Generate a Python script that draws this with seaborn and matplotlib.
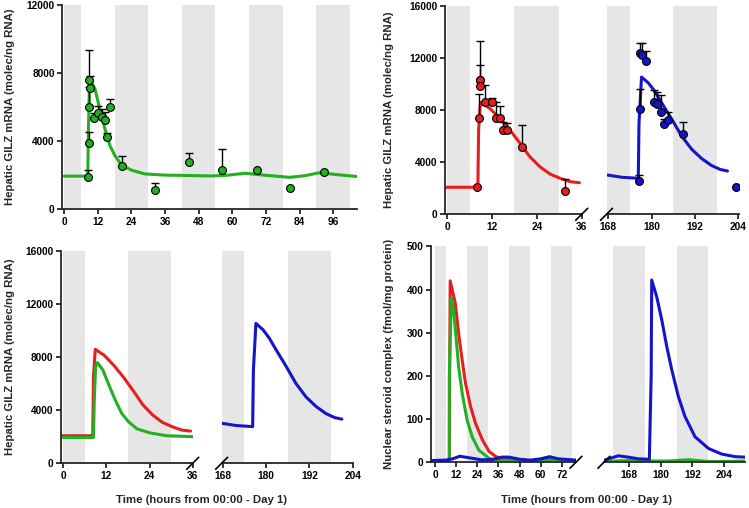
import numpy as np
import pandas as pd
import matplotlib
matplotlib.use("Agg")
import matplotlib.pyplot as plt
import seaborn as sns

# ---- model curves (hours, value) ----
green_t = [0, 8.4, 8.6, 9.0, 9.5, 11, 12.7, 14.5, 16.3, 18.1, 20.5, 24, 28.8, 36,
           44, 52, 58, 64.5, 72, 80.5, 86, 91, 98, 104.6]
green_v = [1950, 1950, 4500, 7300, 7600, 7050, 5900, 4750, 3750, 3150, 2600, 2300, 2080, 2010,
           1990, 1960, 2000, 2120, 2000, 1880, 1980, 2150, 2030, 1930]

red_t = [-0.5, 8.2, 8.4, 8.9, 11.4, 14.1, 16.8, 19.5, 22.1, 24.8, 27.5, 30.2, 32.9, 35.4]
red_v = [2080, 2080, 6500, 8600, 8150, 7380, 6480, 5460, 4430, 3660, 3100, 2770, 2510, 2430]

blue_t = [167.8, 171.7, 176.3, 176.5, 177.2, 179.1, 180.9, 182.8, 185.5, 188.3, 191.1,
          193.8, 196.6, 199, 201]
blue_v = [3020, 2850, 2770, 7000, 10560, 10100, 9450, 8560, 7350, 6020, 5000,
          4300, 3750, 3450, 3330]

# ---- measured GILZ mRNA (time, mean, top of error bar) ----
green_pt_t = [8.57, 8.8, 8.85, 9.0, 9.1, 10.5, 12.2, 13.4, 14.5, 15.3, 16.4, 20.5, 32.4, 44.5, 56.5, 68.7, 80.7, 92.8]
green_pt_m = [1920, 3880, 6000, 7600, 7150, 5370, 5680, 5410, 5250, 4235, 6000, 2570, 1135, 2780, 2290, 2330, 1270, 2210]
green_pt_up = [2300, 4560, 7200, 9400, 7860, 5650, 6050, 5900, 5700, 4470, 6470, 3130, 1560, 3330, 3530, 2330, 1270, 2210]

red_pt_t = [8.1, 8.5, 8.7, 8.9, 8.8, 10.1, 12.05, 13.0, 14.1, 15.0, 15.9, 19.9, 31.6]
red_pt_m = [2080, 7430, 10350, 10300, 9890, 8660, 8610, 7380, 7380, 6450, 6450, 5150, 1770]
red_pt_up = [2080, 9250, 13350, 11480, 9890, 9940, 8920, 8660, 8330, 7120, 7050, 6870, 2740]

blue_pt_t = [176.6, 176.7, 176.9, 177.2, 178.5, 180.6, 181.6, 182.5, 183.4, 184.5, 188.6, 203.4]
blue_pt_m = [2560, 8100, 12380, 12250, 11790, 8610, 8460, 7900, 6950, 7280, 6180, 2100]
blue_pt_up = [3000, 9610, 13150, 13150, 12580, 9600, 9400, 9200, 7350, 7900, 7120, 2100]

# ---- nuclear steroid complex ----
nsc_red_t = [-2, 8.2, 8.3, 8.6, 11.5, 13.4, 15.4, 17.3, 20.2, 23, 26.9, 30.7, 34.6, 40.3, 48, 60, 72, 80]
nsc_red_v = [3, 3, 200, 420, 368, 298, 237, 183, 129, 90, 52, 25, 13, 7, 4, 3, 3, 3]
nsc_green_t = [-2, 8.0, 8.1, 9.2, 10.5, 11.9, 13.4, 15.4, 18.2, 21.1, 24.9, 30.7, 36, 42, 46, 52, 58, 65, 72, 80]
nsc_green_v = [2, 2, 200, 380, 352, 291, 221, 160, 98, 59, 28, 9, 4, 5, 7, 4, 3, 7, 4, 2]
nsc_blue_t = [-2, 6, 10, 14, 20, 26, 32, 38, 42, 48, 54, 60, 65, 70, 80]
nsc_blue_v = [4, 5, 8, 14, 10, 6, 6, 12, 12, 7, 5, 8, 13, 8, 5]
nsc_blue2_t = [158.7, 163.9, 167.7, 171.5, 175.7, 176.4, 176.6, 178.5, 180.4, 182.3, 184.2, 186.7,
               189.2, 193, 198.1, 203.1, 208.2, 212]
nsc_blue2_v = [5, 15, 12, 8, 7, 200, 422, 383, 330, 268, 214, 152, 106, 59, 32, 19, 13, 12]
nsc_green2_t = [158.7, 167.7, 176, 183, 190.5, 198, 205, 212]
nsc_green2_v = [2, 4, 3, 3, 6, 2, 2, 3]

# dark periods (18:00 - 06:00), first one starts at the origin
dark = [(0, 6), (18, 30), (42, 54), (66, 78), (90, 102), (162, 174), (186, 198)]

GREEN = "#22B022"
RED = "#E81E1E"
BLUE = "#1414C8"
GREY = "#E6E6E6"

sns.set_theme(style="ticks")
plt.rcParams["font.family"] = ["Liberation Sans", "DejaVu Sans"]
plt.rcParams["font.weight"] = "bold"
plt.rcParams["axes.labelweight"] = "bold"

W, H = 749, 508
fig = plt.figure(figsize=(W / 100, H / 100), dpi=100)


def mk(l, r, t, b, xlim, ylim, xticks, yticks, left=True):
    ax = fig.add_axes([l / W, 1 - b / H, (r - l) / W, (b - t) / H])
    for a, c in dark:
        ax.axvspan(a, c, color=GREY, lw=0, zorder=0)
    ax.set_xlim(*xlim)
    ax.set_ylim(*ylim)
    ax.set_xticks(xticks)
    ax.set_xticklabels([str(x) for x in xticks], fontsize=7.3, fontweight="bold")
    ax.spines["top"].set_visible(False)
    ax.spines["right"].set_visible(False)
    ax.spines["bottom"].set_linewidth(1.3)
    ax.spines["left"].set_linewidth(1.3)
    ax.tick_params(direction="out", length=3.5, width=1.1, pad=2, colors="black")
    if left:
        ax.set_yticks(yticks)
        ax.set_yticklabels([str(y) for y in yticks], fontsize=7.3, fontweight="bold")
    else:
        ax.spines["left"].set_visible(False)
        ax.set_yticks([])
    ax.set_facecolor("white")
    return ax


def brk(ax, side):
    bb = ax.get_position()
    dx = 6 / (bb.width * W)
    dy = 6 / (bb.height * H)
    x0 = 1 if side == "r" else 0
    ax.plot([x0 - dx, x0 + dx], [-dy, dy], transform=ax.transAxes, color="black",
            lw=1.2, clip_on=False, zorder=5)


def curve(ax, t, v, color):
    sns.lineplot(x=t, y=v, ax=ax, color=color, lw=2.2, sort=False, estimator=None, zorder=2)


def points(ax, t, m, up, color):
    lo = np.zeros(len(m))
    hi = np.array(up) - np.array(m)
    ax.errorbar(t, m, yerr=[lo, hi], fmt="none", ecolor="black", elinewidth=1.0,
                capsize=3, capthick=1.0, zorder=3)
    sns.scatterplot(x=t, y=m, ax=ax, color=color, edgecolor="black", s=32,
                    linewidth=0.8, zorder=4)


gt = [0, 4000, 8000, 12000, 16000]

# top-left
ax1 = mk(62.3, 357.2, 5.3, 209.3, (-0.7, 104.6), (0, 12000), list(range(0, 97, 12)), [0, 4000, 8000, 12000])
curve(ax1, green_t, green_v, GREEN)
points(ax1, green_pt_t, green_pt_m, green_pt_up, GREEN)

# top-right
ax2 = mk(445, 581.7, 6.3, 214.3, (-0.6, 36), (0, 16000), [0, 12, 24, 36], gt)
curve(ax2, red_t, red_v, RED)
points(ax2, red_pt_t, red_pt_m, red_pt_up, RED)
brk(ax2, "r")
ax3 = mk(606.5, 739.4, 6.3, 214.3, (167.5, 204.3), (0, 16000), [168, 180, 192, 204], gt, left=False)
curve(ax3, blue_t, blue_v, BLUE)
points(ax3, blue_pt_t, blue_pt_m, blue_pt_up, BLUE)
brk(ax3, "l")

# bottom-left
ax4 = mk(61.1, 192.7, 251.3, 463.3, (-0.6, 36), (0, 16000), [0, 12, 24, 36], gt)
curve(ax4, red_t, red_v, RED)
curve(ax4, green_t, green_v, GREEN)
brk(ax4, "r")
ax5 = mk(221.6, 352.7, 251.3, 463.3, (167.7, 204), (0, 16000), [168, 180, 192, 204], gt, left=False)
curve(ax5, blue_t, blue_v, BLUE)
brk(ax5, "l")

# bottom-right
ax6 = mk(431, 575.9, 246.3, 462.3, (-2.3, 80), (0, 500), list(range(0, 73, 12)), [0, 100, 200, 300, 400, 500])
curve(ax6, nsc_red_t, nsc_red_v, RED)
curve(ax6, nsc_green_t, nsc_green_v, GREEN)
curve(ax6, nsc_blue_t, nsc_blue_v, BLUE)
brk(ax6, "r")
ax7 = mk(603.9, 745.2, 246.3, 462.3, (158.5, 212), (0, 500), [168, 180, 192, 204], [0], left=False)
curve(ax7, nsc_green2_t, nsc_green2_v, GREEN)
curve(ax7, nsc_blue2_t, nsc_blue2_v, BLUE)
brk(ax7, "l")

for ax in [ax1, ax2, ax3, ax4, ax5, ax6, ax7]:
    ax.set_xlabel("")
    ax.set_ylabel("")

ylab = "Hepatic GILZ mRNA (molec/ng RNA)"
fs = 8.2
fig.text(10 / W, 1 - 107 / H, ylab, rotation=90, ha="center", va="center", fontsize=fs, fontweight="bold")
fig.text(389 / W, 1 - 110 / H, ylab, rotation=90, ha="center", va="center", fontsize=fs, fontweight="bold")
fig.text(10 / W, 1 - 357 / H, ylab, rotation=90, ha="center", va="center", fontsize=fs, fontweight="bold")
fig.text(389 / W, 1 - 354 / H, "Nuclear steroid complex (fmol/mg protein)", rotation=90,
         ha="center", va="center", fontsize=fs, fontweight="bold")
xlab = "Time (hours from 00:00 - Day 1)"
fig.text(202 / W, 1 - 500 / H, xlab, ha="center", va="center", fontsize=fs, fontweight="bold")
fig.text(587 / W, 1 - 500 / H, xlab, ha="center", va="center", fontsize=fs, fontweight="bold")

fig.savefig("out.png", dpi=100, facecolor="white")
